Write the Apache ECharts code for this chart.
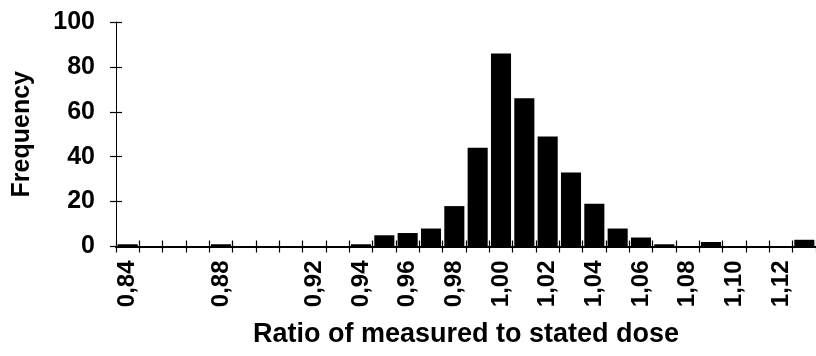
<!DOCTYPE html>
<html>
<head>
<meta charset="utf-8">
<script src="https://cdn.jsdelivr.net/npm/echarts@6/dist/echarts.min.js"></script>
<style>
  html, body { margin: 0; padding: 0; background: #fff; }
  #chart { width: 816px; height: 356px; }
</style>
</head>
<body>
<div id="chart"></div>
<script>
// Bin centres of the dose-ratio histogram (width 0.01)
const categories = ['0,84','0,85','0,86','0,87','0,88','0,89','0,90','0,91','0,92','0,93',
                    '0,94','0,95','0,96','0,97','0,98','0,99','1,00','1,01','1,02','1,03',
                    '1,04','1,05','1,06','1,07','1,08','1,09','1,10','1,11','1,12','1,13'];
// Number of samples in each bin
const frequency = [1, 0, 0, 0, 1, 0, 0, 0, 0, 0,
                   1, 5, 6, 8, 18, 44, 86, 66, 49, 33,
                   19, 8, 4, 1, 0, 2, 0, 0, 0, 3];
// Bins that carry a printed label on the x axis
const labelledBins = ['0,84','0,88','0,92','0,94','0,96','0,98','1,00','1,02','1,04','1,06','1,08','1,10','1,12'];
// Frequency axis ticks
const yTicks = { min: 0, max: 100, step: 20 };

const FONT = '"Liberation Sans", Arial, sans-serif';
const chart = echarts.init(document.getElementById('chart'), null, { renderer: 'canvas' });

const tickStyle = { color: '#000', width: 1.2 };

chart.setOption({
  animation: false,
  backgroundColor: '#fff',
  grid: { left: 116, top: 22, width: 702, height: 224.5 },
  xAxis: [
    {
      type: 'category',
      data: categories,
      position: 'bottom',
      boundaryGap: true,
      axisLine: { lineStyle: { color: '#000', width: 2 } },
      axisTick: { show: true, interval: 0, length: 6, inside: false, lineStyle: tickStyle },
      axisLabel: {
        interval: (i, v) => labelledBins.includes(v),
        rotate: 90,
        margin: 14,
        color: '#000',
        fontFamily: FONT,
        fontWeight: 'bold',
        fontSize: 24
      },
      name: 'Ratio of measured to stated dose',
      nameLocation: 'middle',
      nameGap: 75,
      nameTextStyle: { color: '#000', fontFamily: FONT, fontWeight: 'bold', fontSize: 27 },
      splitLine: { show: false }
    },
    {
      type: 'category',
      data: categories,
      position: 'bottom',
      boundaryGap: true,
      axisLine: { show: false },
      axisTick: { show: true, interval: 0, length: 6, inside: true, lineStyle: tickStyle },
      axisLabel: { show: false },
      splitLine: { show: false }
    }
  ],
  yAxis: [
    {
      type: 'value',
      min: yTicks.min,
      max: yTicks.max,
      interval: yTicks.step,
      axisLine: { show: true, lineStyle: { color: '#000', width: 1 } },
      axisTick: { show: true, length: 6, inside: false, lineStyle: tickStyle },
      axisLabel: {
        margin: 21,
        color: '#000',
        fontFamily: FONT,
        fontWeight: 'bold',
        fontSize: 25
      },
      splitLine: { show: false },
      name: 'Frequency',
      nameLocation: 'middle',
      nameGap: 81,
      nameTextStyle: { color: '#000', fontFamily: FONT, fontWeight: 'bold', fontSize: 25 }
    },
    {
      type: 'value',
      min: yTicks.min,
      max: yTicks.max,
      interval: yTicks.step,
      position: 'left',
      axisLine: { show: false },
      axisTick: { show: true, length: 6, inside: true, lineStyle: tickStyle },
      axisLabel: { show: false },
      splitLine: { show: false }
    }
  ],
  series: [
    {
      type: 'bar',
      data: frequency,
      xAxisIndex: 0,
      yAxisIndex: 0,
      barCategoryGap: '14%',
      itemStyle: { color: '#000' }
    }
  ]
});
</script>
</body>
</html>
